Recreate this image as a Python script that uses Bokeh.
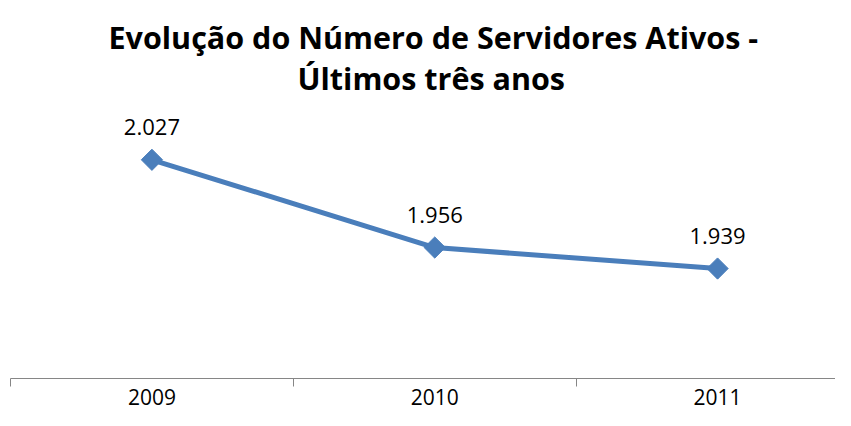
import numpy as np
from bokeh.plotting import figure
from bokeh.models import Range1d, FixedTicker, ColumnDataSource, Title
from bokeh.embed import file_html
from bokeh.resources import INLINE
from bokeh.core.properties import value

years = ["2009", "2010", "2011"]
servidores = [2027, 1956, 1939]
value_labels = ["2.027", "1.956", "1.939"]
title_lines = ["Evolução do Número de Servidores Ativos -", "Últimos três anos"]

FONT = "Open Sans"
BLUE = "#4A7EBB"

FRAME_TOP = 100
FRAME_BOTTOM = 378

xs = list(range(len(years)))
src = ColumnDataSource(dict(x=xs, y=servidores, lab=value_labels))

p = figure(width=835, height=410, output_backend="svg", toolbar_location=None,
           x_range=Range1d(-0.5, 2.417), y_range=Range1d(1850, 2075),
           min_border_left=10, min_border_right=0, min_border_top=FRAME_TOP,
           min_border_bottom=410 - FRAME_BOTTOM)

# second line nearest the plot, first line stacked above it
for line, standoff, off in [(title_lines[1], 3, 287), (title_lines[0], -8, 98)]:
    p.add_layout(Title(text=line, align="left", text_font=FONT,
                       text_font_size="30.5px", text_font_style="bold",
                       text_color="#000000", standoff=standoff, offset=off), "above")

p.line("x", "y", source=src, line_color=BLUE, line_width=5)
p.scatter("x", "y", source=src, marker="square", angle=np.pi / 4, size=15,
          fill_color=BLUE, line_color=BLUE)
p.text("x", "y", text="lab", source=src, y_offset=-33, text_align="center",
       text_baseline="alphabetic", text_font=value(FONT), text_font_size="22px",
       text_color="#000000")

p.yaxis.visible = False
p.grid.visible = False
p.outline_line_color = None

ax = p.xaxis[0]
ax.ticker = FixedTicker(ticks=xs, minor_ticks=[-0.5, 0.5, 1.5, 2.5])
ax.major_label_overrides = {i: y for i, y in enumerate(years)}
ax.major_tick_out = 0
ax.major_tick_in = 0
ax.minor_tick_in = 0
ax.minor_tick_out = 8
ax.axis_line_color = "#868686"
ax.minor_tick_line_color = "#868686"
ax.major_label_text_font = FONT
ax.major_label_text_font_size = "21px"
ax.major_label_text_color = "#000000"
ax.major_label_standoff = 2

open("out.html", "w").write(file_html(p, INLINE))
